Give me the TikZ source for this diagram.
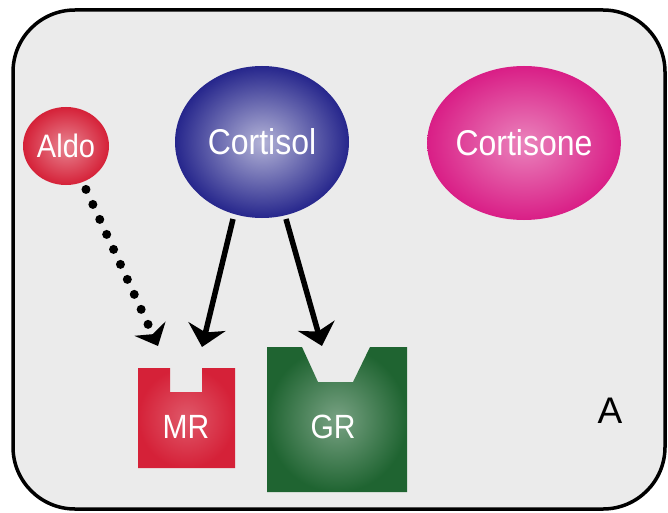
\documentclass[tikz,border=0pt]{standalone}
\usepackage{fontspec}
\setmainfont{Liberation Sans}
\usetikzlibrary{shapes.geometric,arrows.meta}
\definecolor{bgray}{HTML}{EBEBEB}
\definecolor{aldored}{HTML}{D52138}
\definecolor{cortblue}{HTML}{26268C}
\definecolor{cortmag}{HTML}{D91E86}
\definecolor{grgreen}{HTML}{1F6431}
\newcommand{\tallt}[1]{\scalebox{1}[1.12]{#1}}
\tikzset{
  ball/.style={ellipse, inner sep=0pt, text=white},
  lbl/.style={text=white, inner sep=0pt},
  solidarrow/.style={line width=5.5pt, -{Stealth[length=21pt 0,width=38pt 0,inset=6pt]}},
  dotarrow/.style={line width=9pt, line cap=round, dash pattern=on 0pt off 16.5pt,
     -{Stealth[length=19pt 0,width=34pt 0,inset=6pt]}},
}
\begin{document}
\begin{tikzpicture}[x=1pt,y=-1pt]
\useasboundingbox (0,0) rectangle (668,513);
\fill[white] (0,0) rectangle (668,513);
\draw[line width=3.5pt, fill=bgray, rounded corners=62pt] (13,10) rectangle (665,509);

% balls
\node[ball, minimum width=86pt, minimum height=78pt,
      inner color=aldored!55!white, outer color=aldored,
      font=\fontsize{29}{29}\selectfont] (aldo) at (66,146) {\tallt{Aldo}};
\node[ball, minimum width=174pt, minimum height=152pt,
      inner color=cortblue!35!white, outer color=cortblue,
      font=\fontsize{32}{32}\selectfont] (cortisol) at (262,142) {\tallt{Cortisol}};
\node[ball, minimum width=178pt, minimum height=154pt,
      inner color=cortmag!55!white, outer color=cortmag,
      font=\fontsize{32}{32}\selectfont] (cortisone) at (524,143) {\tallt{Cortisone}};

% receptors
\shade[inner color=aldored!75!white, outer color=aldored]
  (138,368) -- (170,368) -- (170,392) -- (202,392) -- (202,368) -- (235,368)
  -- (235,468) -- (138,468) -- cycle;
\shade[inner color=grgreen!60!white, outer color=grgreen]
  (267,347) -- (302,347) -- (318,382) -- (353,382) -- (370,347) -- (407,347)
  -- (407,492) -- (267,492) -- cycle;
\node[lbl, font=\fontsize{30}{30}\selectfont] (mr) at (186,427) {\tallt{MR}};
\node[lbl, font=\fontsize{30}{30}\selectfont] (gr) at (333,427) {\tallt{GR}};

\node[inner sep=0pt, font=\fontsize{37}{37}\selectfont] (lblA) at (610,411) {A};

% arrow end points
\coordinate (mrL) at (158,346);
\coordinate (mrR) at (202,347);
\coordinate (grT) at (322,346);
\coordinate (cS1) at (233,219);
\coordinate (cS2) at (286,219);

\draw[dotarrow, shorten <=8pt] (aldo) -- (mrL);
\draw[solidarrow] (cS1) -- (mrR);
\draw[solidarrow] (cS2) -- (grT);
\end{tikzpicture}
\end{document}
